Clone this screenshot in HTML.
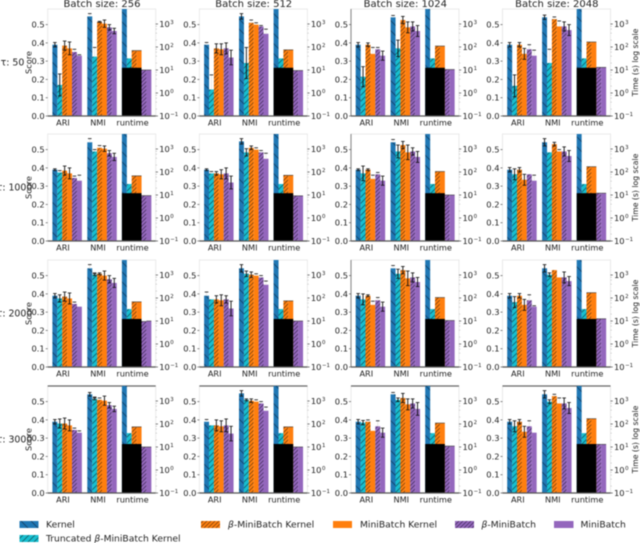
<!DOCTYPE html>
<html>
<head>
<meta charset="utf-8">
<title>Clustering scores and runtime by batch size</title>
<style>
html,body{margin:0;padding:0;background:#fff;width:640px;height:543px;overflow:hidden}
svg{display:block;filter:blur(0.5px)}
text{font-family:"DejaVu Sans","Liberation Sans",sans-serif;fill:#222}
</style>
</head>
<body>
<svg id="chart" xmlns="http://www.w3.org/2000/svg" width="640" height="543" viewBox="0 0 640 543">
  <defs>
    <pattern id="h-kernel" patternUnits="userSpaceOnUse" width="10" height="10"><rect width="10" height="10" fill="#1f77b4"/><path d="M-2 -2L12 12M-2 8L2 12M8 -2L12 2" stroke="#123a5c" stroke-width=".75"/></pattern>
    <pattern id="h-trunc" patternUnits="userSpaceOnUse" width="6" height="6"><rect width="6" height="6" fill="#17becf"/><path d="M-1 7L7 -1M-1 1L1 -1M5 7L7 5" stroke="#10545e" stroke-width=".75"/></pattern>
    <pattern id="h-orange" patternUnits="userSpaceOnUse" width="4" height="4"><rect width="4" height="4" fill="#ff7f0e"/><path d="M-1 5L5 -1M-1 1L1 -1M3 5L5 3" stroke="#6e3a08" stroke-width=".7"/></pattern>
    <pattern id="h-purple" patternUnits="userSpaceOnUse" width="4" height="4"><rect width="4" height="4" fill="#9467bd"/><path d="M-1 5L5 -1M-1 1L1 -1M3 5L5 3" stroke="#3e2a55" stroke-width=".7"/></pattern>
  </defs>
  <g id="panels"></g>
  <g>
    <g><rect x="19.5" y="521" width="19" height="7" fill="url(#h-kernel)"/><text x="46" y="527.5" font-size="9.2">Kernel</text></g>
    <g><rect x="19.5" y="535" width="19" height="7" fill="url(#h-trunc)"/><text x="46" y="541.5" font-size="9.2">Truncated <tspan font-style="italic">β</tspan>-MiniBatch Kernel</text></g>
    <g><rect x="201" y="521" width="19" height="7" fill="url(#h-orange)"/><text x="228" y="527.5" font-size="9.2"><tspan font-style="italic">β</tspan>-MiniBatch Kernel</text></g>
    <g><rect x="333" y="521" width="19" height="7" fill="#ff7f0e"/><text x="360" y="527.5" font-size="9.2">MiniBatch Kernel</text></g>
    <g><rect x="455" y="521" width="19" height="7" fill="url(#h-purple)"/><text x="481.5" y="527.5" font-size="9.2"><tspan font-style="italic">β</tspan>-MiniBatch</text></g>
    <g><rect x="554" y="521" width="19.5" height="7" fill="#9467bd"/><text x="580.5" y="527.5" font-size="9.2">MiniBatch</text></g>
  </g>
</svg>
<script>
const batchSizes = [256, 512, 1024, 2048];
const tauValues = [50, 1000, 2000, 3000];
const metricLabels = ['ARI', 'NMI', 'runtime'];
const scoreTicks = [0, 0.1, 0.2, 0.3, 0.4, 0.5];
const runtimeExponents = [-1, 0, 1, 2, 3];

const ariValues = [
  [[.39,.17,.385,.37,.35,.33],[.39,.145,.37,.365,.37,.32],[.39,.215,.39,.34,.365,.33],[.39,.165,.39,.34,.365,.33]],
  [[.39,.375,.385,.37,.345,.33],[.39,.37,.37,.365,.37,.32],[.39,.37,.39,.34,.365,.33],[.39,.365,.39,.335,.365,.33]],
  [[.39,.375,.385,.375,.345,.33],[.39,.37,.37,.365,.37,.32],[.39,.37,.39,.34,.365,.33],[.39,.355,.39,.34,.365,.33]],
  [[.39,.38,.38,.37,.345,.33],[.39,.37,.37,.365,.37,.325],[.39,.385,.39,.34,.365,.33],[.39,.365,.39,.335,.365,.33]]
];
const nmiValues = [
  [[.545,.325,.515,.505,.485,.465],[.545,.29,.51,.50,.49,.45],[.54,.37,.525,.485,.49,.465],[.54,.29,.53,.49,.49,.47]],
  [[.54,.49,.51,.505,.48,.46],[.545,.485,.51,.50,.485,.45],[.54,.49,.525,.485,.49,.46],[.54,.485,.53,.49,.49,.465]],
  [[.54,.505,.51,.50,.48,.46],[.54,.51,.505,.50,.49,.45],[.54,.51,.53,.485,.49,.465],[.54,.505,.53,.49,.49,.47]],
  [[.54,.515,.51,.505,.48,.46],[.545,.51,.505,.50,.49,.45],[.54,.51,.52,.485,.49,.46],[.54,.50,.53,.49,.49,.465]]
];
const runtimeValues = [
  [[5000,32,70,70,10,10],[5000,32,75,75,9.5,9.5],[5000,32,110,110,10.5,10.5],[5000,32,165,165,13,13]],
  [[5000,30,68,68,9.4,9.4],[5000,30,72,72,9.2,9.2],[5000,30,105,105,10,10],[5000,30,170,170,12,12]],
  [[5000,33,68,68,9.5,10],[5000,33,75,75,10,10],[5000,33,105,105,10.5,10.5],[5000,33,170,170,12.5,12.5]],
  [[5000,40,75,75,10,10],[5000,40,75,75,10,10],[5000,40,110,110,11,11],[5000,40,170,170,13,13]]
];
const blackRuntimeValues = [
  [12.5,12.5,12.5,12.5],
  [12,12,12,12],
  [12.3,12.3,12.3,12.3],
  [13.5,13.5,13.5,13.5]
];
const ariErrors = [
  [[.012,.06,.025,.035,0,0],[0,0,.025,.03,.03,.04],[.012,.055,.01,0,0,.025],[.012,.06,.012,.03,0,0]],
  [[.005,0,.025,.03,0,0],[.005,0,.01,.025,.03,.035],[.005,.04,.005,0,0,.025],[.012,.03,.012,.03,0,0]],
  [[.012,.02,.025,.03,0,0],[0,0,.02,.03,.02,.04],[.012,.03,.005,0,0,.025],[.012,.03,.012,.03,0,0]],
  [[.012,.025,.03,.03,0,0],[0,0,.03,.03,.035,.04],[.012,.012,0,0,0,.025],[.012,.03,.012,.03,0,0]]
];
const ariUpperCaps = [
  [[0,0,0,0,.015,.005],[.012,.08,0,0,0,0],[0,0,0,.035,.01,0],[0,0,0,0,.025,.03]],
  [[0,.01,0,0,.01,.03],[0,.01,0,0,0,0],[0,0,0,.02,.01,0],[0,0,0,0,0,.03]],
  [[0,0,0,0,.01,0],[.02,0,0,0,0,0],[0,0,0,.02,.015,0],[0,0,0,0,.03,.005]],
  [[0,0,0,0,.01,.01],[.012,0,0,0,0,0],[0,0,.01,0,.03,0],[0,0,0,0,.03,0]]
];
const nmiErrors = [
  [[0,0,.003,.02,.015,.015],[.015,.085,0,0,0,0],[0,.045,.02,.03,.025,.03],[.012,0,0,0,.025,.03]],
  [[0,0,0,.015,.015,.02],[.015,.02,.01,0,0,0],[0,.035,.02,.04,.02,.03],[.02,0,.01,0,.025,.03]],
  [[0,.005,.005,.025,.02,.025],[.02,.015,.015,0,0,0],[0,.025,.02,.04,.025,.025],[.02,.01,0,0,.03,.025]],
  [[.01,.005,0,.025,.015,.015],[.015,.005,.01,0,0,0],[0,.01,.025,.03,.025,.035],[.02,.01,0,0,.03,.03]]
];
const nmiUpperCaps = [
  [[.015,.05,0,0,0,0],[0,0,.015,.01,.005,.025],[.01,0,0,0,0,0],[0,.075,.012,.03,0,0]],
  [[.02,.01,.012,0,0,0],[0,0,0,.01,.01,.03],[.015,0,0,0,0,0],[0,0,0,.01,0,0]],
  [[.02,.01,0,0,0,0],[0,0,0,.01,.01,.02],[.015,0,0,0,0,0],[0,0,0,0,0,0]],
  [[0,.01,.01,0,0,0],[0,0,0,.01,.01,.02],[.01,0,0,0,0,0],[0,0,.01,.03,0,0]]
];

const seriesFills = ['url(#h-kernel)', 'url(#h-trunc)', 'url(#h-orange)', '#ff7f0e', 'url(#h-purple)', '#9467bd'];
const colLefts = [47.7, 199.4, 351, 502.5];
const rowBases = [116, 241, 367, 493];
const AXIS_W = 108, AXIS_H = 107, BAR_W = 4.9;
const GROUP_STARTS = [4.7, 39.6, 74.2];
const LABEL_CENTERS = [15.3, 50.3, 84.8];
const SVG_NS = 'http://www.w3.org/2000/svg';
const root = document.getElementById('panels');

function make(parent, tag, attrs, txt) {
  const n = document.createElementNS(SVG_NS, tag);
  for (const k in attrs) n.setAttribute(k, attrs[k]);
  if (txt !== undefined) n.textContent = txt;
  parent.appendChild(n);
  return n;
}
function scoreY(base, v) { return base - v * 182.8; }
function timeY(base, v) { return base - (Math.log10(v) + 1) * 23; }
function barX(left, group, s) { return left + GROUP_STARTS[group] + s * BAR_W; }

function drawError(g, x, base, value, err, faint) {
  if (!err) return;
  const top = scoreY(base, value + err), low = scoreY(base, value - err);
  const line = make(g, 'line', {x1: x, x2: x, y1: top, y2: faint ? scoreY(base, value) : low, stroke: faint ? '#eeeeee' : '#111', 'stroke-width': faint ? 1.4 : 0.9});
  
  
  const cap = make(g, 'line', {x1: x - 1.8, x2: x + 1.8, y1: top, y2: top, stroke: '#111', 'stroke-width': 0.8});
  
  
  if (!faint) {
    const capLow = make(g, 'line', {x1: x - 1.8, x2: x + 1.8, y1: low, y2: low, stroke: '#111', 'stroke-width': 0.8});
    
    
  }
}

tauValues.forEach(function (tau, r) {
  const base = rowBases[r], top = base - AXIS_H;

  const rowLabel = make(root, 'text', {x: r === 0 ? 12.5 : 14.5, y: base - 50.5, 'font-size': 9.4, 'text-anchor': 'middle'}, 'τ: ' + tau);
  
  

  const scoreTitle = make(root, 'text', {x: 0, y: 0, 'font-size': 8.2, 'text-anchor': 'middle', transform: 'translate(31.5 ' + (base - 53.5) + ') rotate(-90)'}, 'Score');
  
  

  const timeTitle = make(root, 'text', {x: 0, y: 0, 'font-size': 7.7, fill: '#333', 'text-anchor': 'middle', transform: 'translate(638 ' + (base - 53.5) + ') rotate(-90)'}, 'Time (s) log scale');
  
  

  batchSizes.forEach(function (batch, c) {
    const left = colLefts[c], right = left + AXIS_W;
    const panel = make(root, 'g', {});
    
    

    if (r === 0) {
      const title = make(panel, 'text', {x: left + 54.3, y: 7, 'font-size': 10, 'text-anchor': 'middle'}, 'Batch size: ' + batch);
      
      
    }

    const frame = make(panel, 'rect', {x: left, y: top, width: AXIS_W, height: AXIS_H, fill: '#fff', stroke: '#eaeaea', 'stroke-width': 1});
    
    

    if (r === 3) {
      const topSpine = make(panel, 'line', {x1: left, x2: right, y1: top, y2: top, stroke: '#666', 'stroke-width': 1.2});
      
      
    }
    if (c === 2 && r < 3) {
      const leftSpine = make(panel, 'line', {x1: left, x2: left, y1: top, y2: base, stroke: '#8a8a8a', 'stroke-width': 1.1});
      
      
    }

    [ariValues[r][c], nmiValues[r][c]].forEach(function (vals, m) {
      vals.forEach(function (v, s) {
        const y = scoreY(base, v);
        const bar = make(panel, 'rect', {x: barX(left, m, s), y: y, width: BAR_W + 0.05, height: base - y, fill: seriesFills[s]});
        
        
      });
    });

    runtimeValues[r][c].forEach(function (v, s) {
      const y = Math.max(top, timeY(base, v));
      const bar = make(panel, 'rect', {x: barX(left, 2, s), y: y, width: BAR_W + 0.05, height: base - y, fill: seriesFills[s]});
      
      
      if (s > 1) {
        const edge = make(panel, 'line', {x1: barX(left, 2, s), x2: barX(left, 2, s) + BAR_W, y1: y, y2: y, stroke: '#333', 'stroke-width': 0.6});
        
        
      }
    });

    const blackY = timeY(base, blackRuntimeValues[r][c]);
    const black = make(panel, 'rect', {x: barX(left, 2, 0), y: blackY, width: BAR_W * 4, height: base - blackY, fill: '#000'});
    
    

    for (let s = 0; s < 6; s++) {
      const xa = barX(left, 0, s) + BAR_W / 2, xn = barX(left, 1, s) + BAR_W / 2;
      drawError(panel, xa, base, ariValues[r][c][s], ariUpperCaps[r][c][s], true);
      drawError(panel, xa, base, ariValues[r][c][s], ariErrors[r][c][s], false);
      drawError(panel, xn, base, nmiValues[r][c][s], nmiUpperCaps[r][c][s], true);
      drawError(panel, xn, base, nmiValues[r][c][s], nmiErrors[r][c][s], false);
    }

    const baseline = make(panel, 'line', {x1: left, x2: right, y1: base, y2: base, stroke: '#555', 'stroke-width': 1.3});
    
    

    metricLabels.forEach(function (label, m) {
      const tick = make(panel, 'text', {x: left + LABEL_CENTERS[m], y: base + 9.5, 'font-size': 8.2, 'text-anchor': 'middle'}, label);
      
      
    });

    scoreTicks.forEach(function (v) {
      const y = scoreY(base, v);
      const mark = make(panel, 'line', {x1: left - 2, x2: left, y1: y, y2: y, stroke: '#555', 'stroke-width': 0.7});
      
      
      const label = make(panel, 'text', {x: left - 3, y: y + 3, 'font-size': 8.3, 'text-anchor': 'end'}, v.toFixed(1));
      
      
    });

    runtimeExponents.forEach(function (e, i) {
      const y = timeY(base, Math.pow(10, e));
      const mark = make(panel, 'line', {x1: right, x2: right + 2.2, y1: y, y2: y, stroke: '#444', 'stroke-width': 0.7});
      
      
      const label = make(panel, 'text', {x: right + 3.5, y: y + 3, 'font-size': 8.3}, '10');
      
      
      make(label, 'tspan', {dy: -3, dx: 0.5, 'font-size': 5.4}, e < 0 ? '−1' : String(e));
      if (i < runtimeExponents.length - 1) {
        [2, 4, 6, 8].forEach(function (k) {
          const my = timeY(base, k * Math.pow(10, e));
          const minor = make(panel, 'line', {x1: right, x2: right + 1.3, y1: my, y2: my, stroke: '#aaa', 'stroke-width': 0.5});
          
          
        });
      }
    });
  });
});
</script>
</body>
</html>
